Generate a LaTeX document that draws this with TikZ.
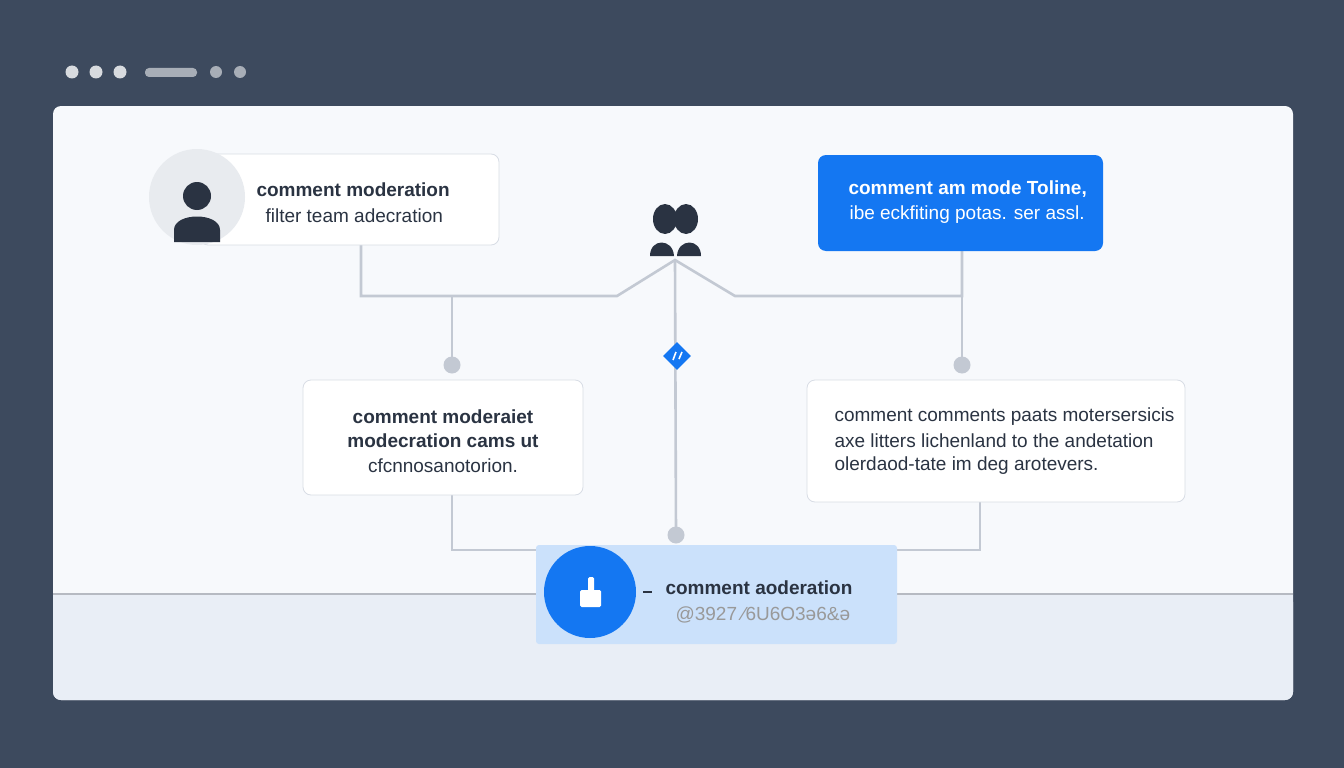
\documentclass[tikz,border=0pt]{standalone}
\usepackage{fontspec}
\setmainfont{Liberation Sans}
\usetikzlibrary{shapes.geometric}
\definecolor{bg}{HTML}{3D4A5E}
\definecolor{panel}{HTML}{F7F9FC}
\definecolor{band}{HTML}{E9EEF6}
\definecolor{ln}{HTML}{C3C9D3}
\definecolor{dark}{HTML}{2A3342}
\definecolor{blue}{HTML}{1477F2}
\definecolor{lblue}{HTML}{CBE1FB}
\definecolor{bord}{HTML}{D8DDE5}
\tikzset{
 box/.style={draw=bord,line width=0.8pt,rounded corners=8pt,fill=white},
 conn/.style={draw=ln,line width=2.6pt},
 dot/.style={circle,fill=ln,inner sep=0pt,minimum size=17pt},
 t/.style={text=dark,font=\fontsize{19}{23}\selectfont},
 tb/.style={t,font=\fontsize{19}{23}\selectfont\bfseries},
}
\begin{document}
\begin{tikzpicture}[x=1pt,y=-1pt]
\useasboundingbox (0,0) rectangle (1344,768);
\fill[bg] (0,0) rectangle (1344,768);
% window dots
\fill[white!80!bg] (72,72) circle (6.5) (96,72) circle (6.5) (120,72) circle (6.5);
\fill[white!55!bg,rounded corners=4pt] (145,68) rectangle (197,77);
\fill[white!55!bg] (216,72) circle (6) (240,72) circle (6);
% panel
\fill[panel,rounded corners=8pt] (53,106) rectangle (1293,700);
\fill[band,rounded corners=8pt] (53,594) rectangle (1293,700);
\fill[band] (53,594) rectangle (1293,640);
\draw[ln!80!gray,line width=1.2pt] (53,594) -- (1293,594);
% connectors
\coordinate (hub) at (675,260);
\coordinate (dA) at (452,365);
\coordinate (dB) at (962,365);
\coordinate (dE) at (676,535);
\draw[conn] (361,245) -- (361,296) -- (617,296) -- (hub) -- (735,296) -- (962,296) -- (962,251);
\draw[conn] (452,296) -- (dA);
\draw[conn] (962,296) -- (dB);
\draw[conn] (hub) -- (dE);
\draw[conn] (452,495) -- (452,550) -- (536,550);
\draw[conn] (980,502) -- (980,550) -- (897,550);
\node[dot] (nA) at (dA) {};
\node[dot] (nB) at (dB) {};
\node[dot] (nE) at (dE) {};
\node[diamond,fill=blue,minimum size=28pt,inner sep=0pt] (dia) at (677,356) {};
\draw[white,line width=1.6pt] (673,360) -- (676,352) (679,359) -- (682,352);
% node A
\node[box,minimum width=299pt,minimum height=91pt] (A) at (349.5,199.5) {};
\fill[bord!60] (197,197) circle (48);
\fill[dark] (197,196) circle (14);
\fill[dark] (174,242) -- (174,230) .. controls (174,212) and (220,212) .. (220,230) -- (220,242) -- cycle;
\node[tb,anchor=west] (At) at (253,190) {comment moderation};
\node[t,anchor=west] (As) at (262,216) {filter team adecration};
% node B
\node[box,draw=none,fill=blue,minimum width=285pt,minimum height=96pt] (B) at (960.5,203) {};
\node[tb,text=white,anchor=west] (Bt) at (845,189) {comment am mode Toline,};
\node[t,text=white,anchor=west] (Bs) at (846,215) {ibe eckfiting potas. ser assl.};
% people icon
\fill[dark] (665,219) ellipse (12 and 15) (686,219) ellipse (12 and 15);
\fill[dark] (650,256) .. controls (650,238) and (673,238) .. (674,256) -- cycle;
\fill[dark] (677,256) .. controls (678,238) and (701,238) .. (701,256) -- cycle;
% node C
\node[box,minimum width=280pt,minimum height=115pt,align=center] (C) at (443,437.5) {};
\node[tb] at (443,417) {comment moderaiet};
\node[tb] at (443,441) {modecration cams ut};
\node[t] at (443,466) {cfcnnosanotorion.};
% node D
\node[box,minimum width=378pt,minimum height=122pt] (D) at (996,441) {};
\node[t,anchor=west] at (831,417) {comment comments paats motersersicis};
\node[t,anchor=west] at (831,441) {axe litters lichenland to the andetation};
\node[t,anchor=west] at (831,466) {olerdaod-tate im deg arotevers.};
% node E
\node[box,draw=none,fill=lblue,rounded corners=3pt,minimum width=361pt,minimum height=99pt] (E) at (716.5,594.5) {};
\fill[blue] (590,592) circle (46);
\fill[white,rounded corners=1.5pt] (580,590) rectangle (601,607);
\fill[white,rounded corners=1.5pt] (588,577) rectangle (594,592);
\draw[dark,line width=1.2pt] (643,592) -- (652,592);
\node[tb,anchor=west] at (662,588) {comment aoderation};
\node[t,text=gray!80,anchor=west] at (672,615) {@3927 \char"2044 6U6O3ə6\&ə};
\end{tikzpicture}
\end{document}
